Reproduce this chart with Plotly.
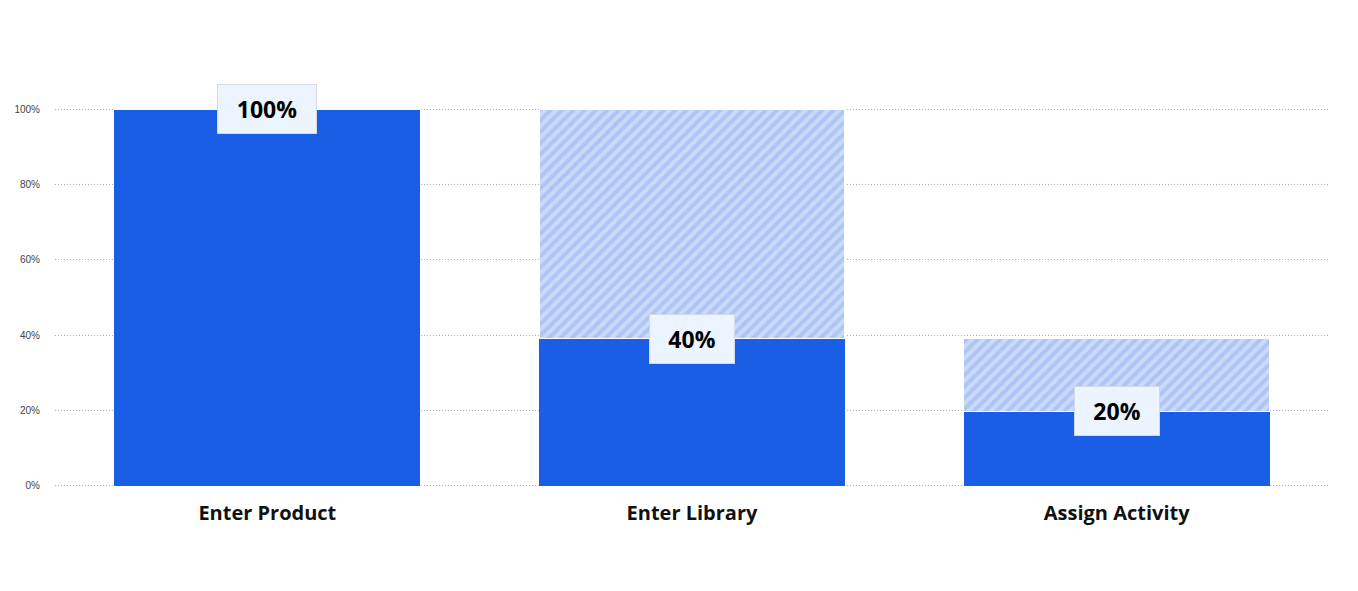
import plotly.graph_objects as go

categories = ["Enter Product", "Enter Library", "Assign Activity"]
converted = [100, 39, 19.8]
dropoff = [0, 61, 19.2]
labels = ["100%", "40%", "20%"]
y_ticks = [0, 20, 40, 60, 80, 100]
y_tick_text = ["0%", "20%", "40%", "60%", "80%", "100%"]

SOLID = "#1b5ee6"
HATCH_BG = "#cbdaf9"
HATCH_FG = "#90b0f1"

fig = go.Figure()
fig.add_trace(go.Bar(
    x=categories, y=converted, marker=dict(color=SOLID, line=dict(width=0)),
    hoverinfo="skip", showlegend=False,
))
fig.add_trace(go.Bar(
    x=categories, y=dropoff,
    marker=dict(color=HATCH_BG, line=dict(color="white", width=1),
                pattern=dict(shape="/", fgcolor=HATCH_FG, bgcolor=HATCH_BG,
                             size=8, solidity=0.5, fillmode="overlay")),
    hoverinfo="skip", showlegend=False,
))

for c, v, t in zip(categories, converted, labels):
    fig.add_annotation(
        x=c, y=v, text="<b>" + t + "</b>", showarrow=False,
        xanchor="center", yanchor="middle",
        font=dict(family="Open Sans, sans-serif", size=23, color="#000000"),
        bgcolor="#ebf4ff", bordercolor="#d4dae3", borderwidth=1,
        width=82 if len(t) < 4 else 96, height=46,
    )

fig.update_layout(
    barmode="stack", bargap=0.28,
    width=1350, height=583,
    margin=dict(l=47, r=29, t=100, b=104),
    paper_bgcolor="white", plot_bgcolor="white",
    xaxis=dict(
        showgrid=False, showline=False, zeroline=False, ticks="",
        tickfont=dict(family="Open Sans, sans-serif", size=20, color="#111111", weight="bold"),
        ticklabelstandoff=12, automargin=False,
    ),
    yaxis=dict(
        range=[-0.3, 100.3], tickvals=y_ticks, ticktext=y_tick_text, tickmode="array",
        showgrid=True, gridcolor="#9fb6cc", griddash="1px,2px", gridwidth=1,
        zeroline=False, showline=False, ticks="",
        tickfont=dict(family="Liberation Sans, Arial, sans-serif", size=10, color="#444444"),
        ticklabelstandoff=14, automargin=False,
    ),
)

fig.write_html("out.html")
